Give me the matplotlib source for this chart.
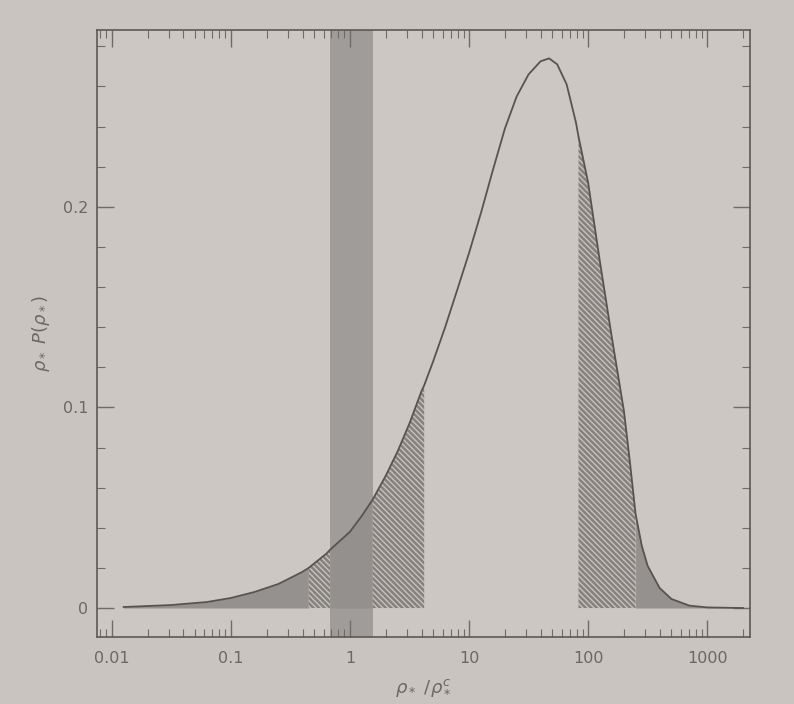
import numpy as np
import matplotlib
matplotlib.use("Agg")
import matplotlib.pyplot as plt
from matplotlib.ticker import FixedLocator, MultipleLocator, NullFormatter

# datos
rho = [0.0126, 0.0316, 0.063, 0.1, 0.158, 0.251, 0.398, 0.45, 0.631, 0.68,
       1.0, 1.26, 1.55, 2.0, 2.51, 3.16, 3.98, 4.2, 5.0, 6.3, 7.9, 10, 12.6,
       15.8, 20, 25.1, 31.6, 39.8, 47, 55, 66, 79, 83, 100, 126, 158, 200,
       224, 250, 282, 316, 398, 501, 708, 1000, 2000]
prob = [0.0005, 0.0015, 0.003, 0.005, 0.008, 0.012, 0.018, 0.020, 0.027,
        0.029, 0.038, 0.046, 0.054, 0.066, 0.078, 0.092, 0.108, 0.111, 0.123,
        0.140, 0.158, 0.177, 0.197, 0.218, 0.239, 0.255, 0.266, 0.2725, 0.274,
        0.271, 0.261, 0.242, 0.235, 0.212, 0.172, 0.135, 0.098, 0.073, 0.047,
        0.031, 0.021, 0.010, 0.0045, 0.0012, 0.0003, 0.0]

# intervalos sombreados
banda = (0.68, 1.55)
rayado = [(0.45, 0.68), (1.55, 4.2), (83, 250)]
oscuro = [(0.0126, 0.45), (250, 2000)]

xticks = [0.01, 0.1, 1, 10, 100, 1000]
xlabels = ['0.01', '0.1', '1', '10', '100', '1000']
yticks = [0, 0.1, 0.2]
ylabels = ['0', '0.1', '0.2']

x = np.array(rho)
y = np.array(prob)

fondo = '#c9c4c0'
gris_txt = '#6b6765'
plt.rcParams['hatch.linewidth'] = 1.8
plt.rcParams['font.family'] = ['DejaVu Sans']

fig = plt.figure(figsize=(7.94, 7.04), dpi=100, facecolor=fondo)
ax = fig.add_axes([0.122, 0.095, 0.823, 0.862])
ax.set_facecolor('#ccc7c3')

# banda vertical
ax.axvspan(banda[0], banda[1], color='#a09c99', lw=0, zorder=1)
m = (x >= banda[0]) & (x <= banda[1])
ax.fill_between(x[m], 0, y[m], color='#94908d', lw=0, zorder=2)

for lo, hi in oscuro:
    m = (x >= lo) & (x <= hi)
    ax.fill_between(x[m], 0, y[m], color='#95918f', lw=0, zorder=2)

for lo, hi in rayado:
    m = (x >= lo) & (x <= hi)
    ax.fill_between(x[m], 0, y[m], facecolor='#c6c1bd', edgecolor='#85817f',
                    hatch='\\' * 6, lw=0, zorder=2)

ax.plot(x, y, color='#575351', lw=1.3, zorder=3)

ax.set_xscale('log')
ax.set_xlim(0.0075, 2300)
ax.set_ylim(-0.0145, 0.288)

ax.xaxis.set_major_locator(FixedLocator(xticks))
ax.set_xticklabels(xlabels)
ax.xaxis.set_minor_formatter(NullFormatter())
ax.yaxis.set_major_locator(FixedLocator(yticks))
ax.set_yticklabels(ylabels)
ax.yaxis.set_minor_locator(MultipleLocator(0.02))

ax.tick_params(which='both', direction='in', top=True, right=True,
               colors='#6f6b69', labelcolor=gris_txt, labelsize=11.5)
ax.tick_params(which='major', length=12, width=1.0)
ax.tick_params(which='minor', length=6, width=0.8)
ax.tick_params(axis='x', which='major', pad=10)
ax.tick_params(axis='y', which='major', pad=6)

for s in ax.spines.values():
    s.set_color('#5c5856')
    s.set_linewidth(1.2)

ax.set_xlabel(r'$\rho_*\ /\rho_*^c$', color=gris_txt, fontsize=13, labelpad=8)
ax.set_ylabel(r'$\rho_*\ P(\rho_*)$', color=gris_txt, fontsize=13, labelpad=8)

fig.savefig('out.png', dpi=100, facecolor=fondo)
